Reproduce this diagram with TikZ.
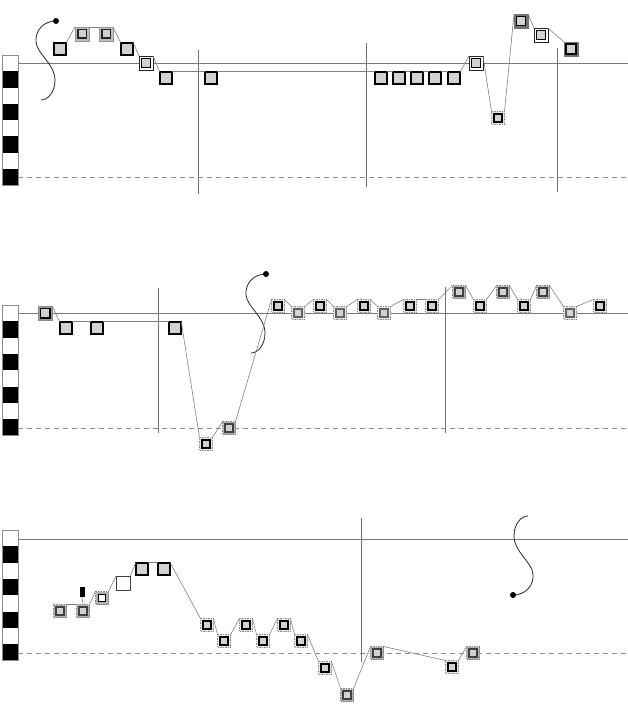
\documentclass[tikz,border=0pt]{standalone}
\definecolor{fillg}{HTML}{D2D2D2}
\definecolor{staffc}{HTML}{7A7A7A}
\definecolor{connc}{HTML}{808080}
\tikzset{
 sq/.style={rectangle, inner sep=0pt, outer sep=0pt, minimum size=#1},
 inner/.style n args={4}{path picture={\filldraw[solid, fill=#2, draw=#3, line width=#4] ([shift={(-#1,-#1)}]path picture bounding box.center) rectangle ([shift={(#1,#1)}]path picture bounding box.center);}},
 nA/.style={sq=12.5pt, fill=fillg, draw=black, line width=1.8pt},
 nB/.style={sq=14pt, fill=black!25, draw=black!40, line width=0.5pt, inner={4.4pt}{fillg}{black!85}{1.8pt}},
 nB2/.style={sq=14pt, fill=black!40, draw=black!45, line width=0.5pt, inner={4.6pt}{fillg}{black}{1.8pt}},
 nC/.style={sq=14pt, fill=white, draw=black!85, line width=0.7pt, inner={4.5pt}{fillg}{black}{1.5pt}},
 nD/.style={sq=14pt, fill=black!55, draw=black!55, line width=0.5pt, inner={4.2pt}{fillg}{black}{1.3pt}},
 nG/.style={sq=14pt, fill=black!55, draw=black!55, line width=0.5pt, inner={5pt}{fillg}{black}{1.5pt}},
 nE/.style={sq=13pt, fill=black!10, draw=black!45, dash pattern=on 1.5pt off 1pt, line width=0.6pt, inner={4.2pt}{fillg}{black}{1.5pt}},
 nEl/.style={sq=13pt, fill=black!10, draw=black!45, dash pattern=on 1.5pt off 1pt, line width=0.6pt, inner={4.2pt}{fillg}{black!62}{1.5pt}},
 nEd/.style={sq=13pt, fill=black!30, draw=black!50, dash pattern=on 1.5pt off 1pt, line width=0.6pt, inner={4.2pt}{fillg}{black!75}{1.6pt}},
 nF/.style={sq=13pt, fill=black!30, draw=black!50, dash pattern=on 1.5pt off 1pt, line width=0.6pt, inner={3.6pt}{white}{black}{1.5pt}},
 nW/.style={sq=14pt, fill=white, draw=black!75, line width=0.8pt},
 conn/.style={draw=connc, line width=0.6pt},
 staff/.style={draw=staffc, line width=0.9pt},
 staffd/.style={draw=black!45, line width=0.8pt, dash pattern=on 5pt off 4pt},
 barl/.style={draw=black!55, line width=0.9pt},
 barout/.style={draw=black!45, line width=0.6pt},
 clefc/.style={draw=black!85, line width=0.8pt},
 stemrect/.style={rectangle, inner sep=0pt, outer sep=0pt, minimum width=5pt, minimum height=10pt, fill=black},
}
\begin{document}
\begin{tikzpicture}[x=1pt,y=-1pt]
\useasboundingbox (0,0) rectangle (628,714);
% staff bars
\foreach \y in {55,305,530}{
  \fill[white] (2,\y) rectangle (18,{\y+130.4});
  \foreach \i in {1,3,5,7}{
    \fill[black] (2,{\y+16.3*\i}) rectangle (18,{\y+16.3*\i+16.3});
  }
  \draw[barout] (2,\y) rectangle (18,{\y+130.4});
}
% staff lines
\draw[staff] (18,63) -- (628,63);
\draw[staffd] (18,177) -- (628,177);
\draw[staff] (18,313) -- (628,313);
\draw[staffd] (18,428) -- (628,428);
\draw[staff] (18,539) -- (628,539);
\draw[staffd] (18,653) -- (628,653);
% bar lines
\draw[barl] (198,50) -- (198,194);
\draw[barl] (366,43) -- (366,187);
\draw[barl] (557,48) -- (557,192);
\draw[barl] (158,288) -- (158,433);
\draw[barl] (445,287) -- (445,433);
\draw[barl] (361,518) -- (361,662);
% clefs
\foreach \sx/\sy/\r in {56/21/0, 266/274/0, 513/595/180}{
  \begin{scope}[shift={(\sx,\sy)}, rotate=\r]
    \draw[clefc] (0,0) .. controls (-12,0) and (-21,9) .. (-20,21) .. controls (-19,33) and (-1,43) .. (-1,59) .. controls (-1,71) and (-8,79) .. (-15,79);
    \fill[black] (0,0) circle (3pt);
  \end{scope}
}
% row 1
\node[nA] (a1) at (60,49) {};
\node[nB] (a2) at (82,34) {};
\node[nB] (a3) at (106,34) {};
\node[nA] (a4) at (127,49) {};
\node[nC] (a5) at (146,63) {};
\node[nA] (a6) at (166,78) {};
\node[nA] (a7) at (211,78) {};
\node[nA] (a8) at (381,78) {};
\node[nA] (a9) at (399,78) {};
\node[nA] (a10) at (417,78) {};
\node[nA] (a11) at (435,78) {};
\node[nA] (a12) at (454,78) {};
\node[nC] (a13) at (476,63) {};
\node[nE] (a14) at (498,118) {};
\node[nD] (a15) at (521,21) {};
\node[nC] (a16) at (541,35) {};
\node[nG] (a17) at (571,49) {};
\foreach \i [evaluate=\i as \j using int(\i+1)] in {1,...,16}
  \draw[conn] (a\i.north east) -- (a\j.north west);
% row 2
\node[nB2] (b1) at (45,313) {};
\node[nA] (b2) at (66,328) {};
\node[nA] (b3) at (97,328) {};
\node[nA] (b4) at (175,328) {};
\node[nE] (b5) at (206,444) {};
\node[nEd] (b6) at (229,428) {};
\node[nE] (b7) at (278,306) {};
\node[nEl] (b8) at (298,313) {};
\node[nE] (b9) at (320,306) {};
\node[nEl] (b10) at (340,313) {};
\node[nE] (b11) at (364,306) {};
\node[nEl] (b12) at (384,313) {};
\node[nE] (b13) at (410,306) {};
\node[nE] (b14) at (432,306) {};
\node[nEd] (b15) at (459,292) {};
\node[nE] (b16) at (480,306) {};
\node[nEd] (b17) at (503,292) {};
\node[nE] (b18) at (524,306) {};
\node[nEd] (b19) at (543,292) {};
\node[nEl] (b20) at (570,313) {};
\node[nE] (b21) at (600,306) {};
\foreach \i [evaluate=\i as \j using int(\i+1)] in {1,...,20}
  \draw[conn] (b\i.north east) -- (b\j.north west);
% row 3
\node[nEd] (c1) at (60,611) {};
\node[nEd] (c2) at (83,611) {};
\node[nF] (c3) at (102,598) {};
\node[nW] (c4) at (123,583) {};
\node[nA] (c5) at (142,569) {};
\node[nA] (c6) at (164,569) {};
\node[nE] (c7) at (207,625) {};
\node[nE] (c8) at (224,641) {};
\node[nE] (c9) at (246,625) {};
\node[nE] (c10) at (263,641) {};
\node[nE] (c11) at (284,625) {};
\node[nE] (c12) at (301,641) {};
\node[nE] (c13) at (325,668) {};
\node[nEd] (c14) at (347,695) {};
\node[nEd] (c15) at (377,653) {};
\node[nE] (c16) at (452,667) {};
\node[nEd] (c17) at (473,653) {};
\foreach \i [evaluate=\i as \j using int(\i+1)] in {1,...,16}
  \draw[conn] (c\i.north east) -- (c\j.north west);
\node[stemrect] (cst) at (82,592) {};
\draw[conn] (cst.south) -- (c2.north);
\end{tikzpicture}
\end{document}
